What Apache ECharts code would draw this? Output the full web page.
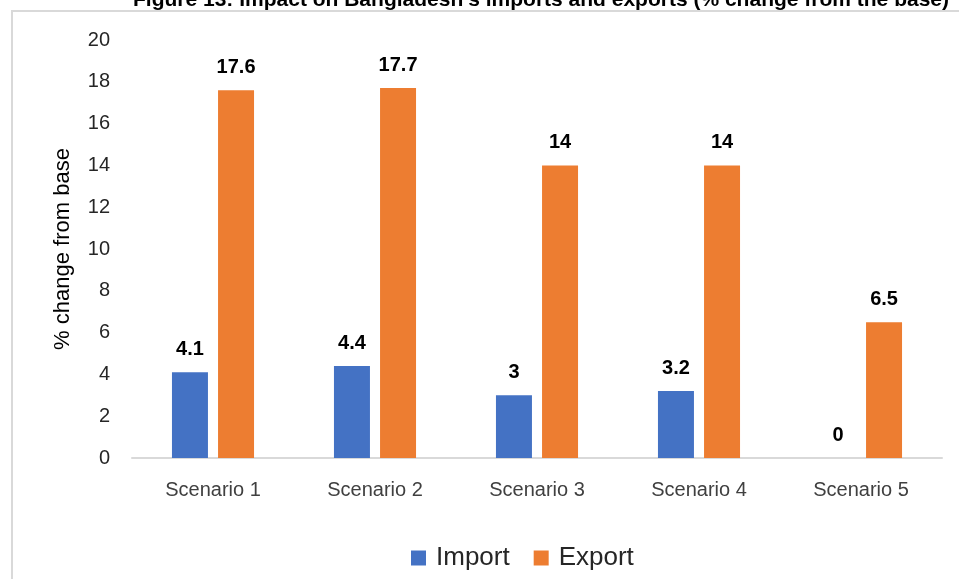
<!DOCTYPE html>
<html><head><meta charset="utf-8">
<script src="https://cdn.jsdelivr.net/npm/echarts@6/dist/echarts.min.js"></script>
<style>html,body{margin:0;padding:0;background:#fff}#c{width:959px;height:579px}</style>
</head><body><div id="c"></div>
<script>
const categories = ['Scenario 1','Scenario 2','Scenario 3','Scenario 4','Scenario 5'];
const importVals = [4.1, 4.4, 3, 3.2, 0];
const exportVals = [17.6, 17.7, 14, 14, 6.5];
const titleText = "Figure 13: Impact on Bangladesh's imports and exports (% change from the base)";
const FONT = "'Liberation Sans Narrow', 'Liberation Sans', sans-serif";
const FONT2 = "'Liberation Sans', sans-serif";
const chart = echarts.init(document.getElementById('c'));
const lbl = {show:true, position:'top', distance:13, fontFamily:FONT2, fontWeight:'bold', fontSize:20, color:'#000'};
chart.setOption({
  animation:false,
  textStyle:{fontFamily:FONT2},
  graphic:[
    {type:'rect', shape:{x:12,y:11,width:960,height:600}, style:{fill:'none', stroke:'#d9d9d9', lineWidth:2}, silent:true},
    {type:'text', x:541, y:-10, style:{text:titleText, font:"bold 21px 'Liberation Sans Narrow', 'Liberation Sans', sans-serif", fill:'#000', textAlign:'center', textVerticalAlign:'top'}}
  ],
  grid:{left:132, right:17, top:40, bottom:121, containLabel:false},
  legend:{top:540, left:406, itemWidth:15, itemHeight:15, itemGap:24, icon:'rect',
    textStyle:{fontFamily:FONT2, fontSize:26, color:'#262626', padding:[0,0,0,5]}, data:['Import','Export']},
  xAxis:{type:'category', data:categories,
    axisLine:{lineStyle:{color:'#d9d9d9', width:2}}, axisTick:{show:false},
    axisLabel:{fontSize:20, color:'#404040', margin:22, fontFamily:FONT2}},
  yAxis:{type:'value', min:0, max:20, interval:2, name:'% change from base', nameLocation:'middle', nameGap:58,
    nameTextStyle:{fontSize:22, color:'#000', fontFamily:FONT2},
    splitLine:{show:false}, axisLine:{show:false}, axisTick:{show:false},
    axisLabel:{fontSize:20, color:'#262626', margin:22, fontFamily:FONT2}},
  series:[
    {name:'Import', type:'bar', data:importVals, barWidth:36, barGap:'28%', itemStyle:{color:'#4472c4'}, label:lbl},
    {name:'Export', type:'bar', data:exportVals, barWidth:36, itemStyle:{color:'#ed7d31'}, label:lbl}
  ]
});
</script></body></html>
